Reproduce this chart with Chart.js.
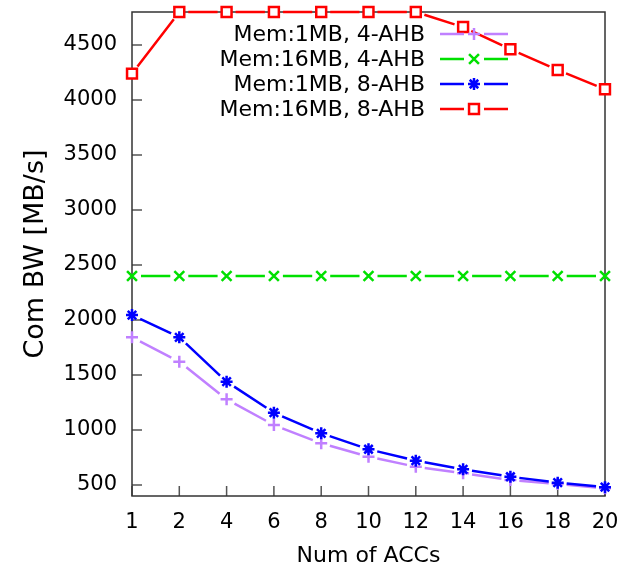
<!DOCTYPE html>
<html>
<head>
<meta charset="utf-8">
<script src="https://cdn.jsdelivr.net/npm/chart.js@4.4.1/dist/chart.umd.min.js"></script>
<style>
  body { margin: 0; background: #fff; }
  canvas { display: block; }
</style>
</head>
<body>
<canvas id="myChart" width="635" height="572"></canvas>
<script>
// values
const xLabels = ['1', '2', '4', '6', '8', '10', '12', '14', '16', '18', '20'];
const yTicks = [500, 1000, 1500, 2000, 2500, 3000, 3500, 4000, 4500];

const mem1MB4AHB = [1843, 1621, 1279, 1045, 879, 757, 666, 606, 545, 509, 470];
const mem16MB4AHB = [2400, 2400, 2400, 2400, 2400, 2400, 2400, 2400, 2400, 2400, 2400];
const mem1MB8AHB = [2045, 1843, 1439, 1157, 970, 825, 721, 643, 575, 521, 480];
const mem16MB8AHB = [4240, 4800, 4800, 4800, 4800, 4800, 4800, 4663, 4461, 4273, 4098];

const seriesNames = ['Mem:1MB, 4-AHB', 'Mem:16MB, 4-AHB', 'Mem:1MB, 8-AHB', 'Mem:16MB, 8-AHB'];
const seriesData = [mem1MB4AHB, mem16MB4AHB, mem1MB8AHB, mem16MB8AHB];
const seriesColors = ['#c080ff', '#00e000', '#0000ff', '#ff0000'];
const seriesMarkers = ['cross', 'crossRot', 'star', 'rect'];
const markerRadius = [6, 7, 6, 7];

const GAP = 9; // gnuplot leaves a small gap between line and point

const FONT = "'DejaVu Sans', sans-serif";
Chart.defaults.font.family = FONT;
Chart.defaults.color = '#000';

// gnuplot-like frame with inward ticks on left and bottom
const gnuplotFrame = {
    id: 'gnuplotFrame',
    beforeDatasetsDraw(chart) {
        const { ctx, chartArea: a, scales: { x, y } } = chart;
        ctx.save();
        ctx.strokeStyle = '#555';
        ctx.lineWidth = 1.5;
        ctx.beginPath();
        x.ticks.forEach((t, i) => {
            const px = x.getPixelForTick(i);
            ctx.moveTo(px, a.bottom);
            ctx.lineTo(px, a.bottom - 10);
        });
        y.ticks.forEach((t, i) => {
            const py = y.getPixelForTick(i);
            ctx.moveTo(a.left, py);
            ctx.lineTo(a.left + 10, py);
        });
        ctx.stroke();
        ctx.strokeStyle = '#333';
        ctx.strokeRect(a.left, a.top, a.right - a.left, a.bottom - a.top);
        ctx.restore();
    }
};

// connect the points the library placed, stopping short of each marker
const gappedLines = {
    id: 'gappedLines',
    beforeDatasetDraw(chart, args) {
        const { ctx } = chart;
        const ds = chart.data.datasets[args.index];
        const pts = args.meta.data;
        ctx.save();
        ctx.strokeStyle = ds.borderColor;
        ctx.lineWidth = ds.borderWidth;
        ctx.beginPath();
        for (let i = 1; i < pts.length; i++) {
            const p0 = pts[i - 1], p1 = pts[i];
            const dx = p1.x - p0.x, dy = p1.y - p0.y;
            const len = Math.hypot(dx, dy);
            if (len <= 2 * GAP) continue;
            const ux = dx / len, uy = dy / len;
            ctx.moveTo(p0.x + ux * GAP, p0.y + uy * GAP);
            ctx.lineTo(p1.x - ux * GAP, p1.y - uy * GAP);
        }
        ctx.stroke();
        ctx.restore();
    }
};

// key in the top right, text right-aligned before the sample
const gnuplotKey = {
    id: 'gnuplotKey',
    afterDatasetsDraw(chart) {
        const { ctx, chartArea: a } = chart;
        ctx.save();
        ctx.font = '22px ' + FONT;
        ctx.textAlign = 'right';
        ctx.textBaseline = 'middle';
        chart.data.datasets.forEach((ds, i) => {
            const yy = a.top + 22 + i * 25;
            ctx.fillStyle = '#000';
            ctx.fillText(ds.label, 425, yy + 1);
            ctx.strokeStyle = ds.borderColor;
            ctx.lineWidth = 2.5;
            ctx.beginPath();
            ctx.moveTo(440, yy); ctx.lineTo(464, yy);
            ctx.moveTo(484, yy); ctx.lineTo(508, yy);
            ctx.stroke();
            ctx.fillStyle = ds.pointBackgroundColor;
            Chart.helpers.drawPoint(ctx, {
                pointStyle: ds.pointStyle,
                radius: ds.pointRadius,
                rotation: 0,
                borderWidth: 2.5
            }, 474, yy);
        });
        ctx.restore();
    }
};

const datasets = seriesNames.map((name, i) => ({
    label: name,
    data: seriesData[i],
    borderColor: seriesColors[i],
    backgroundColor: seriesColors[i],
    pointBackgroundColor: seriesMarkers[i] === 'rect' ? '#fff' : seriesColors[i],
    pointBorderColor: seriesColors[i],
    pointStyle: seriesMarkers[i],
    pointRadius: markerRadius[i],
    pointBorderWidth: 2.5,
    borderWidth: 2.5,
    showLine: false,
    clip: false,
    order: 3 - i
}));

new Chart(document.getElementById('myChart'), {
    type: 'line',
    data: { labels: xLabels, datasets },
    options: {
        responsive: false,
        animation: false,
        layout: { padding: { top: 12, right: 30, left: 0, bottom: 0 } },
        plugins: { legend: { display: false }, tooltip: { enabled: false } },
        scales: {
            x: {
                offset: false,
                grid: { display: false, drawTicks: false },
                border: { display: false },
                ticks: { font: { size: 21 }, padding: 14, maxRotation: 0 },
                title: { display: true, text: 'Num of ACCs', font: { size: 22 }, padding: { top: 3, bottom: 3 } },
                afterFit: s => { s.height = 76; s.paddingLeft = 0; s.paddingRight = 0; }
            },
            y: {
                min: 400,
                max: 4800,
                grid: { display: false, drawTicks: false },
                border: { display: false },
                ticks: { font: { size: 21 }, padding: 15, callback: v => String(v) },
                afterBuildTicks: s => { s.ticks = yTicks.map(v => ({ value: v })); },
                title: { display: true, text: 'Com BW [MB/s]', font: { size: 27 }, padding: { top: 20, bottom: 20 } },
                afterFit: s => { s.width = 132; s.paddingTop = 0; s.paddingBottom = 0; }
            }
        }
    },
    plugins: [gnuplotFrame, gappedLines, gnuplotKey]
});
</script>
</body>
</html>
